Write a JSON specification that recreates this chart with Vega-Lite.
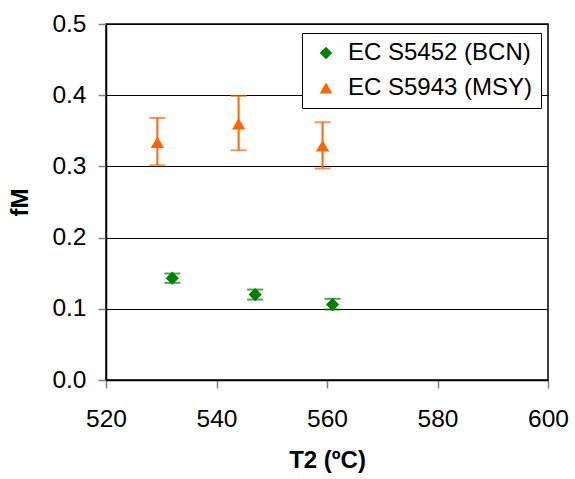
{
  "$schema": "https://vega.github.io/schema/vega-lite/v6.json",
  "width": 442,
  "height": 356,
  "autosize": "none",
  "padding": {"left": 106, "top": 24, "right": 27, "bottom": 99},
  "background": "white",
  "config": {
    "font": "Liberation Sans",
    "view": {"stroke": "black", "strokeWidth": 1.5},
    "axis": {
      "domainColor": "black",
      "domainWidth": 1.5,
      "tickColor": "#808080",
      "tickWidth": 1.5,
      "tickSize": 8,
      "labelFont": "Liberation Sans",
      "labelFontSize": 24.5,
      "labelColor": "black",
      "titleFont": "Liberation Sans",
      "titleFontSize": 24,
      "titleFontWeight": "bold",
      "titleColor": "black"
    },
    "legend": {
      "title": null,
      "orient": "none",
      "legendX": 196,
      "legendY": 9,
      "strokeColor": "black",
      "strokeWidth": 1,
      "fillColor": "white",
      "padding": 8,
      "rowPadding": 11,
      "labelFontSize": 24,
      "labelFont": "Liberation Sans",
      "labelColor": "black",
      "symbolSize": 160,
      "symbolOffset": 4,
      "labelOffset": 10,
      "symbolStrokeWidth": 0,
      "symbolOpacity": 1,
      "labelLimit": 400
    }
  },
  "data": {
    "values": [
      {"series": "EC S5452 (BCN)", "T": 532, "fM": 0.143, "lo": 0.1365, "hi": 0.1495},
      {"series": "EC S5452 (BCN)", "T": 547, "fM": 0.120, "lo": 0.113, "hi": 0.127},
      {"series": "EC S5452 (BCN)", "T": 561, "fM": 0.106, "lo": 0.099, "hi": 0.114},
      {"series": "EC S5943 (MSY)", "T": 529.3, "fM": 0.334, "lo": 0.3015, "hi": 0.368},
      {"series": "EC S5943 (MSY)", "T": 544, "fM": 0.360, "lo": 0.3226, "hi": 0.399},
      {"series": "EC S5943 (MSY)", "T": 559.2, "fM": 0.329, "lo": 0.297, "hi": 0.362}
    ]
  },
  "encoding": {
    "x": {
      "field": "T", "type": "quantitative",
      "scale": {"domain": [520, 600], "nice": false, "zero": false},
      "axis": {"values": [520, 540, 560, 580, 600], "grid": false, "title": "T2 (ºC)", "labelPadding": 19, "titlePadding": 18, "labelFlush": false}
    }
  },
  "layer": [
    {
      "mark": {"type": "rule", "strokeWidth": 2},
      "encoding": {
        "y": {"field": "lo", "type": "quantitative"},
        "y2": {"field": "hi"},
        "stroke": {"field": "series", "type": "nominal", "scale": {"range": ["#008000", "#FF6600"]}, "legend": null}
      }
    },
    {
      "mark": {"type": "tick", "orient": "horizontal", "size": 16, "thickness": 2},
      "encoding": {
        "y": {"field": "lo", "type": "quantitative"},
        "fill": {"field": "series", "type": "nominal", "scale": {"range": ["#008000", "#FF6600"]}, "legend": null}
      }
    },
    {
      "mark": {"type": "tick", "orient": "horizontal", "size": 16, "thickness": 2},
      "encoding": {
        "y": {"field": "hi", "type": "quantitative"},
        "fill": {"field": "series", "type": "nominal", "legend": null}
      }
    },
    {
      "mark": {"type": "point", "filled": true, "opacity": 1, "size": 175},
      "encoding": {
        "y": {
          "field": "fM", "type": "quantitative",
          "scale": {"domain": [0, 0.5], "nice": false},
          "axis": {"values": [0, 0.1, 0.2, 0.3, 0.4, 0.5], "format": ".1f", "grid": true, "gridColor": "black", "gridWidth": 1, "title": "fM", "labelPadding": 12, "titlePadding": 19, "labelFlush": false}
        },
        "color": {"field": "series", "type": "nominal", "scale": {"range": ["#008000", "#FF6600"]}},
        "shape": {"field": "series", "type": "nominal", "scale": {"range": ["diamond", "triangle-up"]}}
      }
    }
  ]
}
